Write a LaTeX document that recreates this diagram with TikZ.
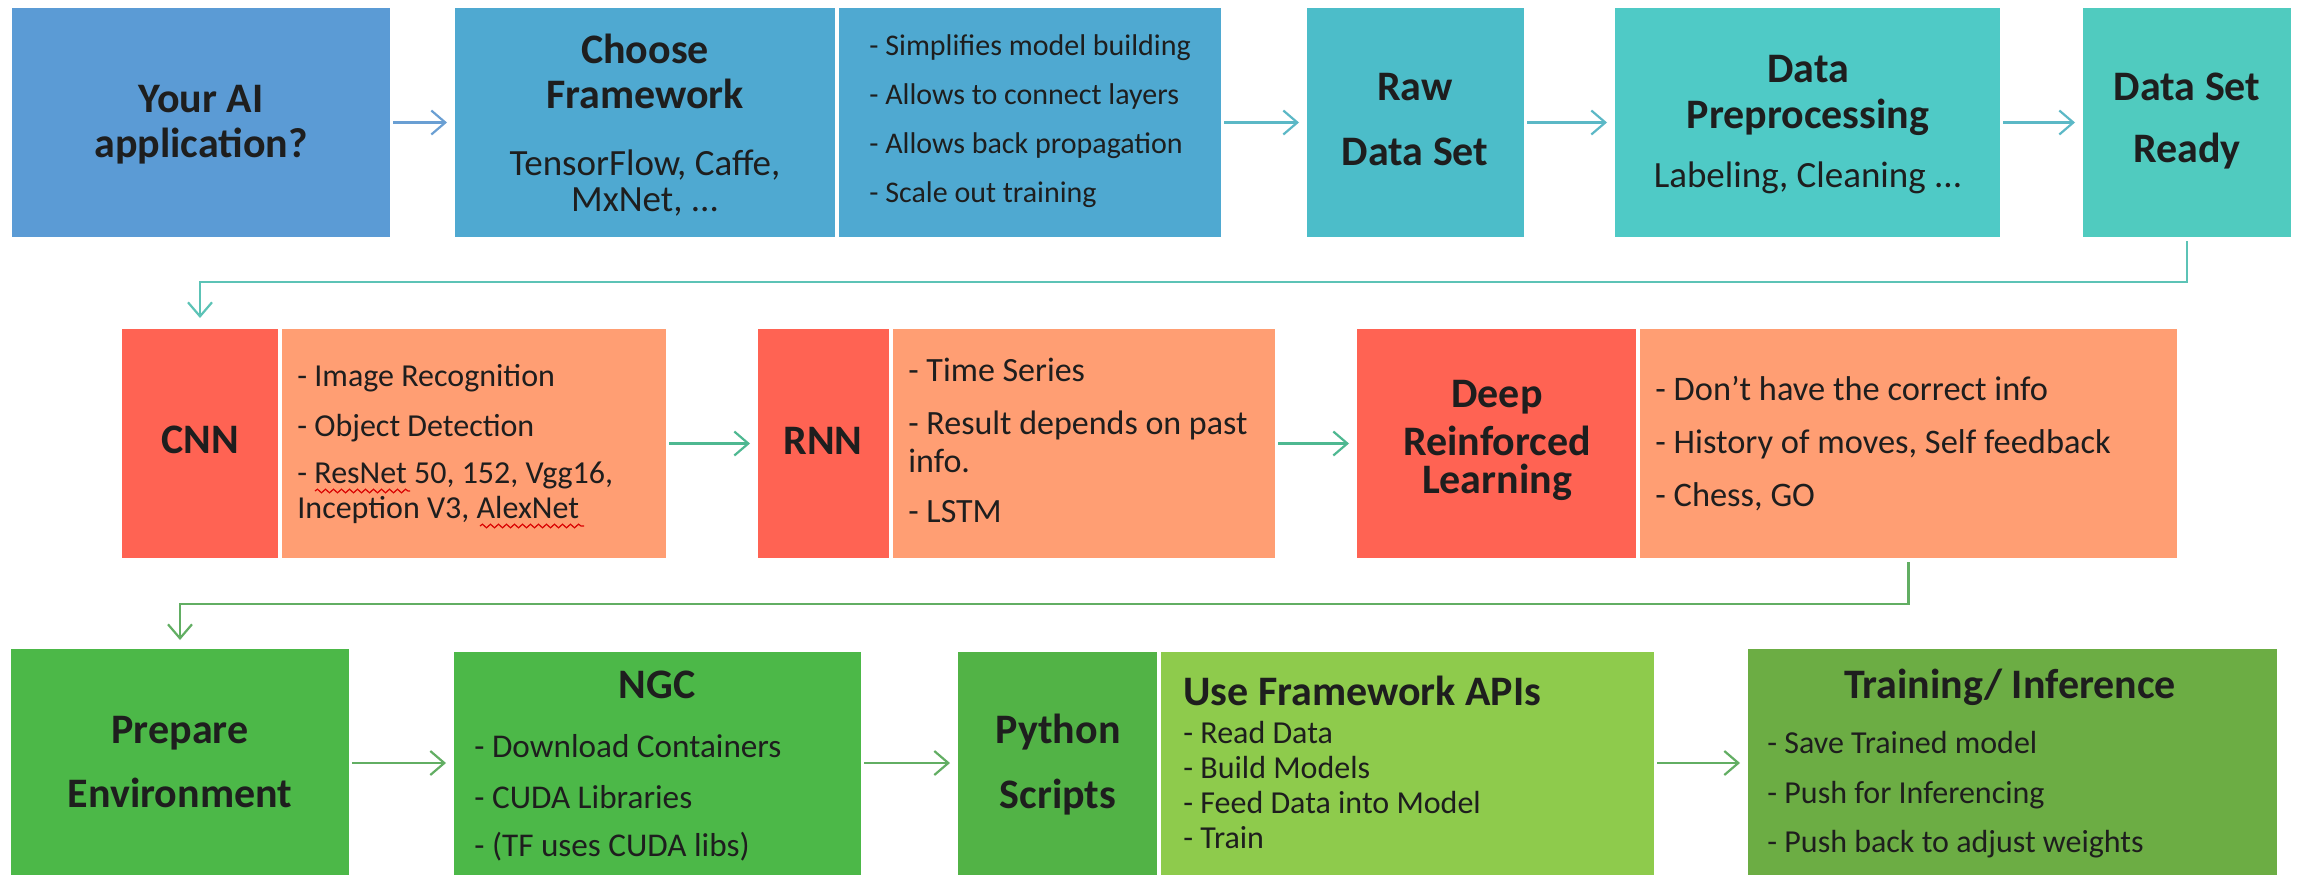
\documentclass[tikz,border=0pt]{standalone}
\usepackage{fontspec}
\setmainfont{Carlito}
\usetikzlibrary{arrows.meta,fit,decorations.pathmorphing}
\definecolor{txt}{HTML}{1E1E1E}
\definecolor{cAI}{HTML}{5B9BD5}
\definecolor{cCF}{HTML}{4FA9D1}
\definecolor{cRaw}{HTML}{4CBDC9}
\definecolor{cDP}{HTML}{4FCAC6}
\definecolor{cDSR}{HTML}{50CBBF}
\definecolor{cRed}{HTML}{FF6353}
\definecolor{cSal}{HTML}{FF9E73}
\definecolor{cG1}{HTML}{4CB848}
\definecolor{cPy}{HTML}{52B346}
\definecolor{cUFA}{HTML}{8ECB4C}
\definecolor{cTr}{HTML}{6CAD44}
\definecolor{aBlue}{HTML}{6A9FD3}
\definecolor{aTeal}{HTML}{5BB8C6}
\definecolor{aTeal2}{HTML}{5CC3B6}
\definecolor{aTG}{HTML}{4EB891}
\definecolor{aGreen}{HTML}{62AE63}
\begin{document}
\begin{tikzpicture}[x=0.5pt,y=-0.5pt,
  box/.style={inner sep=0pt,outer sep=0pt,draw=none},
  ttl/.style={inner sep=0pt,text=txt,font=\fontsize{21}{25}\selectfont\bfseries},
  sub/.style={inner sep=0pt,text=txt,font=\fontsize{18.5}{22}\selectfont},
  lst/.style={inner sep=0pt,text=txt,font=\fontsize{#1}{19}\selectfont,anchor=base west},
  lst/.default=16,
  arr/.style={line width=1.2pt,-{Straight Barb[length=7pt,width=12pt,line width=1.1pt]},shorten <=1.5pt,shorten >=4pt},
  squig/.style={draw=red!85!black,line width=0.6pt,decorate,decoration={snake,amplitude=0.9pt,segment length=4pt}}
]
\useasboundingbox[fill=white] (0,0) rectangle (2297,875);

% ---------- Row 1 ----------
\node[box,fill=cAI,fit={(12,8) (390,237)}] (ai) {};
\node[box,fill=cCF,fit={(455,8) (835,237)}] (cf) {};
\node[box,fill=cCF,fit={(839,8) (1221,237)}] (cfd) {};
\node[box,fill=cRaw,fit={(1307,8) (1524,237)}] (raw) {};
\node[box,fill=cDP,fit={(1615,8) (2000,237)}] (dp) {};
\node[box,fill=cDSR,fit={(2083,8) (2291,237)}] (dsr) {};

\node[ttl,anchor=base] (ai1) at (201,112) {Your AI};
\node[ttl,anchor=base] (ai2) at (201,157) {application?};
\node[ttl,anchor=base] (cf1) at (645,63) {Choose};
\node[ttl,anchor=base] (cf2) at (645,108) {Framework};
\node[sub,anchor=base] (cf3) at (645,175) {TensorFlow, Caffe,};
\node[sub,anchor=base] (cf4) at (645,211) {MxNet, ...};
\node[lst=15] (cfd1) at (869,55) {- Simplifies model building};
\node[lst=15] (cfd2) at (869,104) {- Allows to connect layers};
\node[lst=15] (cfd3) at (869,153) {- Allows back propagation};
\node[lst=15] (cfd4) at (869,202) {- Scale out training};
\node[ttl,anchor=base] (raw1) at (1415,100) {Raw};
\node[ttl,anchor=base] (raw2) at (1415,165) {Data Set};
\node[ttl,anchor=base] (dp1) at (1808,82) {Data};
\node[ttl,anchor=base] (dp2) at (1808,128) {Preprocessing};
\node[sub,anchor=base] (dp3) at (1808,187) {Labeling, Cleaning ...};
\node[ttl,anchor=base] (dsr1) at (2187,100) {Data Set};
\node[ttl,anchor=base] (dsr2) at (2187,162) {Ready};

\draw[arr,draw=aBlue] (ai) -- (cf);
\draw[arr,draw=aTeal] (cfd) -- (raw);
\draw[arr,draw=aTeal] (raw) -- (dp);
\draw[arr,draw=aTeal] (dp) -- (dsr);

% ---------- Row 2 ----------
\node[box,fill=cRed,fit={(122,329) (278,558)}] (cnn) {};
\node[box,fill=cSal,fit={(282,329) (666,558)}] (cnnd) {};
\node[box,fill=cRed,fit={(758,329) (889,558)}] (rnn) {};
\node[box,fill=cSal,fit={(893,329) (1275,558)}] (rnnd) {};
\node[box,fill=cRed,fit={(1357,329) (1636,558)}] (drl) {};
\node[box,fill=cSal,fit={(1640,329) (2177,558)}] (drld) {};

\node[ttl,anchor=base] (cnn1) at (200,453) {CNN};
\node[lst=16] (cnnd1) at (297,386) {- Image Recognition};
\node[lst=16] (cnnd2) at (297,436) {- Object Detection};
\node[lst=16] (cnnd3) at (297,483) {- ResNet 50, 152, Vgg16,};
\node[lst=16] (cnnd4) at (297,518) {Inception V3, AlexNet};
\draw[squig] (315,491) -- (410,491);
\draw[squig] (480,526) -- (584,526);
\node[ttl,anchor=base] (rnn1) at (823,454) {RNN};
\node[lst=17] (rnnd1) at (908,381) {- Time Series};
\node[lst=17] (rnnd2) at (908,434) {- Result depends on past};
\node[lst=17] (rnnd3) at (908,472) {info.};
\node[lst=17] (rnnd4) at (908,522) {- LSTM};
\node[ttl,anchor=base] (drl1) at (1497,407) {Deep};
\node[ttl,anchor=base] (drl2) at (1497,455) {Reinforced};
\node[ttl,anchor=base] (drl3) at (1497,493) {Learning};
\node[lst=17.2] (drld1) at (1655,400) {- Don’t have the correct info};
\node[lst=17.2] (drld2) at (1655,453) {- History of moves, Self feedback};
\node[lst=17.2] (drld3) at (1655,506) {- Chess, GO};

\draw[arr,draw=aTG] (cnnd) -- (rnn);
\draw[arr,draw=aTG] (rnnd) -- (drl);

% ---------- Row 3 ----------
\node[box,fill=cG1,fit={(11,649) (349,875)}] (prep) {};
\node[box,fill=cG1,fit={(454,652) (861,875)}] (ngc) {};
\node[box,fill=cPy,fit={(958,652) (1157,875)}] (py) {};
\node[box,fill=cUFA,fit={(1161,652) (1654,875)}] (ufa) {};
\node[box,fill=cTr,fit={(1748,649) (2277,875)}] (tr) {};

\node[ttl,anchor=base] (prep1) at (180,743) {Prepare};
\node[ttl,anchor=base] (prep2) at (180,807) {Environment};
\node[ttl,anchor=base] (ngc1) at (657,698) {NGC};
\node[lst=16.6] (ngc2) at (474,757) {- Download Containers};
\node[lst=16.6] (ngc3) at (474,808) {- CUDA Libraries};
\node[lst=16.6] (ngc4) at (474,856) {- (TF uses CUDA libs)};
\node[ttl,anchor=base] (py1) at (1058,743) {Python};
\node[ttl,anchor=base] (py2) at (1058,808) {Scripts};
\node[ttl,anchor=base west] (ufa1) at (1183,705) {Use Framework APIs};
\node[lst=16] (ufa2) at (1183,743) {- Read Data};
\node[lst=16] (ufa3) at (1183,778) {- Build Models};
\node[lst=16] (ufa4) at (1183,813) {- Feed Data into Model};
\node[lst=16] (ufa5) at (1183,848) {- Train};
\node[ttl,anchor=base] (tr1) at (2010,698) {Training/ Inference};
\node[lst=16] (tr2) at (1767,753) {- Save Trained model};
\node[lst=16] (tr3) at (1767,803) {- Push for Inferencing};
\node[lst=16] (tr4) at (1767,852) {- Push back to adjust weights};

\draw[arr,draw=aGreen] (prep.east |- 0,763) -- (ngc.west |- 0,763);
\draw[arr,draw=aGreen] (ngc.east |- 0,763) -- (py.west |- 0,763);
\draw[arr,draw=aGreen] (ufa.east |- 0,763) -- (tr.west |- 0,763);

% ---------- Row connectors ----------
\coordinate (r1) at (0,282);
\coordinate (r2) at (0,604);
\draw[arr,draw=aTeal2,shorten <=2pt,shorten >=5.5pt] (dsr.south) -- (dsr.south |- r1) -- (cnn.north |- r1) -- (cnn.north);
\draw[arr,draw=aGreen,shorten <=2pt,shorten >=4.5pt] (drld.south) -- (drld.south |- r2) -- (prep.north |- r2) -- (prep.north);
\end{tikzpicture}
\end{document}
